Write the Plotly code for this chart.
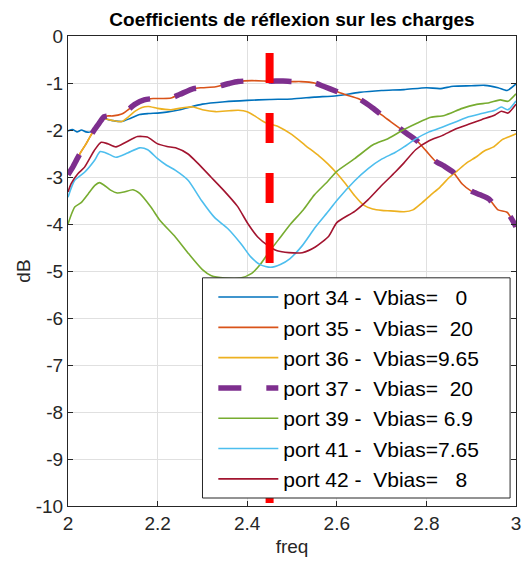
import plotly.graph_objects as go

# ---------------- data ----------------
freq_34 = [2.00, 2.01, 2.02, 2.03, 2.04, 2.05, 2.06, 2.07, 2.08, 2.09, 2.10, 2.12, 2.14, 2.16, 2.18,
           2.20, 2.22, 2.25, 2.30, 2.35, 2.40, 2.45, 2.50, 2.55, 2.60, 2.65, 2.70, 2.75, 2.80, 2.83,
           2.86, 2.90, 2.93, 2.96, 2.98, 3.00]
db_34 = [-2.02, -1.99, -2.04, -2.00, -2.04, -2.04, -1.95, -1.80, -1.75, -1.78, -1.80, -1.82, -1.75, -1.67, -1.65,
         -1.64, -1.62, -1.57, -1.45, -1.40, -1.37, -1.35, -1.34, -1.30, -1.27, -1.20, -1.16, -1.14, -1.10, -1.12,
         -1.07, -1.06, -1.05, -1.10, -1.16, -1.02]

freq_35 = [2.00, 2.01, 2.02, 2.03, 2.04, 2.05, 2.06, 2.07, 2.08, 2.09, 2.10, 2.12, 2.13, 2.15, 2.17,
           2.19, 2.21, 2.23, 2.25, 2.28, 2.30, 2.33, 2.36, 2.38, 2.41, 2.45, 2.48, 2.50, 2.52, 2.55,
           2.57, 2.60, 2.62, 2.65, 2.68, 2.70, 2.72, 2.74, 2.76, 2.78, 2.80, 2.82, 2.84, 2.86, 2.88,
           2.90, 2.92, 2.94, 2.96, 2.98, 3.00]
db_35 = [-2.95, -2.80, -2.62, -2.45, -2.30, -2.13, -1.98, -1.85, -1.72, -1.70, -1.70, -1.66, -1.60, -1.45, -1.36,
         -1.33, -1.33, -1.32, -1.24, -1.12, -1.10, -1.08, -1.01, -0.97, -0.95, -0.96, -0.96, -0.97, -0.97, -1.00,
         -1.07, -1.18, -1.25, -1.34, -1.53, -1.68, -1.82, -1.96, -2.10, -2.24, -2.45, -2.66, -2.77, -2.90, -3.15,
         -3.30, -3.38, -3.47, -3.70, -3.75, -4.06]

freq_36 = [2.00, 2.01, 2.02, 2.03, 2.04, 2.05, 2.06, 2.07, 2.08, 2.10, 2.12, 2.135, 2.15, 2.165, 2.18,
           2.20, 2.23, 2.26, 2.28, 2.30, 2.33, 2.36, 2.38, 2.40, 2.42, 2.44, 2.47, 2.50, 2.53, 2.56,
           2.58, 2.60, 2.62, 2.64, 2.66, 2.68, 2.70, 2.72, 2.75, 2.77, 2.79, 2.81, 2.83, 2.85, 2.87,
           2.89, 2.91, 2.93, 2.95, 2.97, 2.99, 3.00]
db_36 = [-2.95, -2.82, -2.62, -2.45, -2.30, -2.13, -1.98, -1.85, -1.76, -1.80, -1.82, -1.72, -1.60, -1.52, -1.50,
         -1.54, -1.57, -1.52, -1.51, -1.57, -1.61, -1.59, -1.58, -1.61, -1.72, -1.84, -1.93, -2.10, -2.33, -2.55,
         -2.72, -2.92, -3.15, -3.40, -3.60, -3.68, -3.71, -3.72, -3.74, -3.70, -3.55, -3.38, -3.22, -3.02, -2.86,
         -2.70, -2.58, -2.44, -2.36, -2.20, -2.12, -2.08]

freq_37 = list(freq_35)
db_37 = list(db_35)

freq_39 = [2.000, 2.005, 2.015, 2.030, 2.045, 2.060, 2.070, 2.080, 2.095, 2.110, 2.125, 2.145, 2.160, 2.185,
           2.205, 2.240, 2.270, 2.300, 2.320, 2.350, 2.385, 2.410, 2.430, 2.450, 2.475, 2.495, 2.525, 2.550,
           2.580, 2.600, 2.640, 2.680, 2.715, 2.750, 2.780, 2.810, 2.840, 2.880, 2.910, 2.940, 2.965, 2.982, 3.000]
db_39 = [-4.00, -3.86, -3.64, -3.54, -3.36, -3.18, -3.12, -3.17, -3.28, -3.34, -3.32, -3.27, -3.35, -3.64,
         -3.92, -4.28, -4.64, -4.97, -5.10, -5.15, -5.15, -5.05, -4.85, -4.58, -4.27, -4.02, -3.70, -3.38,
         -3.09, -2.88, -2.61, -2.32, -2.18, -1.99, -1.85, -1.73, -1.69, -1.54, -1.46, -1.42, -1.36, -1.39, -1.23]

freq_41 = [2.000, 2.015, 2.037, 2.059, 2.072, 2.090, 2.107, 2.133, 2.160, 2.178, 2.200, 2.220, 2.240, 2.268,
           2.298, 2.327, 2.357, 2.386, 2.408, 2.430, 2.452, 2.474, 2.495, 2.523, 2.552, 2.582, 2.600, 2.640,
           2.670, 2.700, 2.730, 2.750, 2.776, 2.806, 2.835, 2.865, 2.894, 2.923, 2.953, 2.967, 2.982, 3.000]
db_41 = [-3.43, -3.07, -2.90, -2.65, -2.46, -2.51, -2.58, -2.49, -2.38, -2.42, -2.61, -2.75, -2.86, -3.07,
         -3.50, -3.86, -4.10, -4.42, -4.70, -4.87, -4.92, -4.86, -4.74, -4.46, -4.07, -3.72, -3.50, -3.08,
         -2.82, -2.62, -2.48, -2.36, -2.19, -2.04, -1.94, -1.83, -1.72, -1.65, -1.58, -1.51, -1.57, -1.38]

freq_42 = [2.000, 2.007, 2.022, 2.037, 2.059, 2.074, 2.088, 2.107, 2.129, 2.155, 2.177, 2.199, 2.221, 2.240,
           2.268, 2.290, 2.319, 2.349, 2.378, 2.402, 2.423, 2.445, 2.467, 2.493, 2.523, 2.552, 2.582, 2.600,
           2.640, 2.670, 2.700, 2.730, 2.750, 2.776, 2.806, 2.835, 2.865, 2.894, 2.923, 2.953, 2.967, 2.982, 3.000]
db_42 = [-3.32, -3.14, -2.93, -2.79, -2.43, -2.26, -2.29, -2.36, -2.26, -2.14, -2.15, -2.29, -2.35, -2.38,
         -2.51, -2.71, -3.00, -3.30, -3.62, -4.00, -4.27, -4.45, -4.57, -4.61, -4.61, -4.49, -4.26, -3.97,
         -3.73, -3.48, -3.18, -2.90, -2.70, -2.42, -2.23, -2.12, -1.98, -1.88, -1.78, -1.68, -1.60, -1.64, -1.45]

marker_freq = [2.45, 2.45]
marker_db = [-0.36, -10.0]

series_names = [
    "port 34 -\u00a0\u00a0Vbias=\u00a0\u00a0\u00a00",
    "port 35 -\u00a0\u00a0Vbias=\u00a0\u00a020",
    "port 36 -\u00a0\u00a0Vbias=9.65",
    "port 37 -\u00a0\u00a0Vbias=\u00a0\u00a020",
    "port 39 -\u00a0\u00a0Vbias=\u00a06.9",
    "port 41 -\u00a0\u00a0Vbias=7.65",
    "port 42 -\u00a0\u00a0Vbias=\u00a0\u00a0\u00a08",
]

x_tick_vals = [2, 2.2, 2.4, 2.6, 2.8, 3]
x_tick_labels = ["2", "2.2", "2.4", "2.6", "2.8", "3"]
y_tick_vals = [0, -1, -2, -3, -4, -5, -6, -7, -8, -9, -10]
y_tick_labels = ["0", "-1", "-2", "-3", "-4", "-5", "-6", "-7", "-8", "-9", "-10"]

# ---------------- figure ----------------
FONT = "Liberation Sans, Arial, Helvetica, sans-serif"
AX = "#262626"
colors = ["#0072BD", "#D95319", "#EDB120", "#7E2F8E", "#77AC30", "#4DBEEE", "#A2142F"]
xs = [freq_34, freq_35, freq_36, freq_37, freq_39, freq_41, freq_42]
ys = [db_34, db_35, db_36, db_37, db_39, db_41, db_42]

fig = go.Figure()
for i in range(7):
    if i == 3:
        line = dict(color=colors[i], width=5.5, dash="23px,25px", shape="spline", smoothing=0.6)
    else:
        line = dict(color=colors[i], width=1.6, shape="spline", smoothing=0.6)
    fig.add_trace(go.Scatter(x=xs[i], y=ys[i], mode="lines", name=series_names[i], line=line))

fig.add_trace(go.Scatter(x=marker_freq, y=marker_db, mode="lines", showlegend=False,
                         line=dict(color="#FF0000", width=8, dash="30px,30px")))

axis_common = dict(
    showline=True, linecolor=AX, linewidth=1, mirror="ticks",
    ticks="inside", ticklen=5, tickcolor=AX, tickwidth=1,
    showgrid=True, gridcolor="#e0e0e0", gridwidth=1, zeroline=False,
    tickfont=dict(family=FONT, size=19, color=AX),
)

fig.update_layout(
    width=527, height=563,
    margin=dict(l=68, r=6, t=36, b=57),
    paper_bgcolor="white", plot_bgcolor="white",
    title=dict(text="<b>Coefficients de réflexion sur les charges</b>", x=0.5, xref="paper",
               xanchor="center", y=1 - 19 / 563, yanchor="middle",
               font=dict(family=FONT, size=19, color="#000000")),
    xaxis=dict(range=[2, 3], tickvals=x_tick_vals, ticktext=x_tick_labels,
               title=dict(text="freq", font=dict(family=FONT, size=19, color=AX), standoff=6),
               **axis_common),
    yaxis=dict(range=[-10, 0], tickvals=y_tick_vals, ticktext=y_tick_labels,
               title=dict(text="dB", font=dict(family=FONT, size=19, color=AX), standoff=0),
               **axis_common),
    legend=dict(x=0.3244, y=0.4875, xanchor="left", yanchor="top",
                bgcolor="rgba(0,0,0,0)", borderwidth=0, itemwidth=60,
                font=dict(family=FONT, size=21, color="#000000"),
                traceorder="normal"),
    shapes=[dict(type="rect", xref="paper", yref="paper",
                 x0=0.3002, x1=0.9868, y0=0.017, y1=0.4855,
                 line=dict(color=AX, width=1), fillcolor="white", layer="above")],
    showlegend=True,
)

fig.write_html("out.html", config={"displayModeBar": False},
               post_script="document.body.style.margin='0px';")
